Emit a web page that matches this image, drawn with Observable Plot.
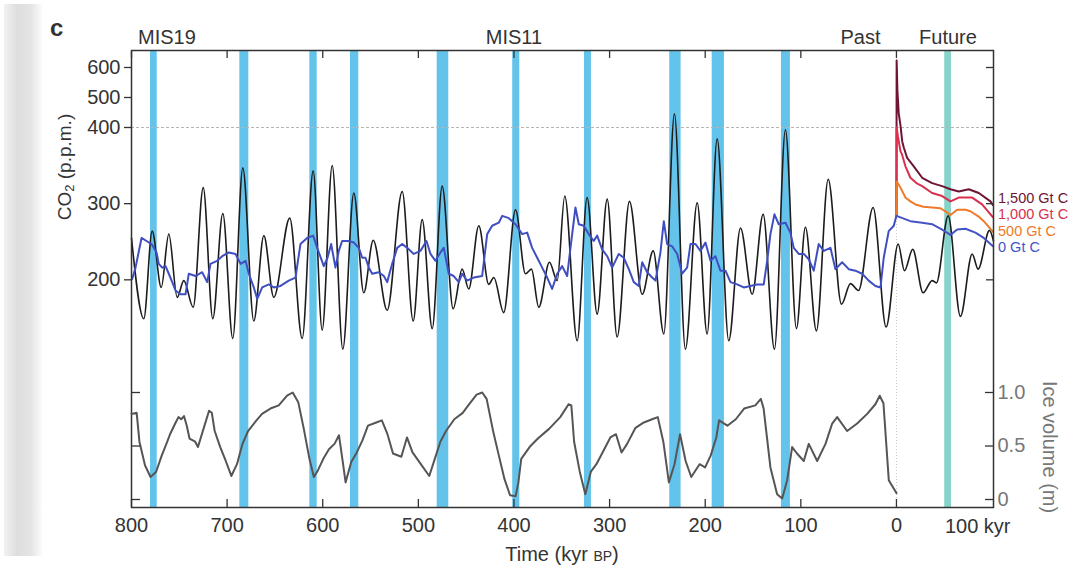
<!DOCTYPE html>
<html><head><meta charset="utf-8">
<script src="https://cdn.jsdelivr.net/npm/d3@7"></script>
<script src="https://cdn.jsdelivr.net/npm/@observablehq/plot@0.6"></script>
<style>
body{margin:0;background:#fff;}
#wrap{position:relative;width:1092px;height:570px;overflow:hidden;font-family:"Liberation Sans",Arial,Helvetica,sans-serif;color:#333;}
#strip{position:absolute;left:4px;top:4px;width:38px;height:552px;background:linear-gradient(to right,#f2f2f2,#dedede 35%,#e4e4e4 70%,#fbfbfb);}
.layer{position:absolute;left:0;top:0;}
.lbl{position:absolute;white-space:nowrap;line-height:1;}
sub{font-size:0.68em;vertical-align:-0.28em;line-height:0;}
</style></head><body>
<div id="wrap"><div id="strip"></div></div>
<script>
// ---- data (time in kyr; negative = before present, positive = future) ----
const critTime = [-800,-787.1,-778.4,-768.9,-761,-752.2,-745.3,-735.5,-725,-715,-704.5,-694.1,-683.6,-672.1,-661.6,-651.2,-634.5,-621.5,-610,-600.6,-590.1,-579,-567.5,-557.1,-547.2,-532.6,-516.9,-505.4,-496,-485.5,-475.1,-463.6,-454.2,-447.3,-436.8,-426.4,-421.1,-410.7,-398.4,-388,-381.7,-374.1,-362.9,-354.8,-346.9,-333.9,-323.5,-313,-302.5,-292.1,-279.2,-265.9,-254.4,-243.3,-232.2,-220.7,-208.4,-198,-187.5,-175.4,-163.1,-150.9,-139.4,-127.6,-116.1,-104.6,-95.2,-83.7,-71.4,-57.5,-48.1,-39.7,-24.4,-10.8,1.8,8.4,17,27.9,37.3,41.8,54.1,66.9,79.2,85.4,97.3,101.5];
const critCO2 = [255,149,264,190,260,177,199,164,321,149,287,123,347,146,258,177,281,123,343,134,350,109,314,183,252,160,316,146,279,136,323,162,214,188,271,194,203,157,292,208,214,164,223,199,310,120,308,155,306,125,303,181,238,129,446,109,301,129,385,120,268,181,286,109,397,136,269,133,332,168,195,186,295,138,247,212,240,183,199,196,284,152,234,214,265,251];

const co2Time = [-799.3,-795.8,-789.5,-784.3,-779,-773.8,-771.5,-767.9,-764.4,-761,-757.4,-754,-748.8,-743.5,-740.1,-733.1,-726.1,-720.8,-717.4,-710.4,-705.1,-698.2,-691.2,-685.9,-680.7,-677.3,-672.1,-668.5,-663.3,-656.4,-651.2,-644.2,-635.5,-628.5,-623.3,-616.3,-610,-605.8,-598.9,-595,-591.2,-586.7,-583.2,-579.7,-572.8,-567.5,-562.3,-558.7,-555.3,-551.8,-548.3,-541.4,-536.1,-532.6,-527.4,-522.1,-516.9,-511.7,-504.8,-497.8,-491.5,-487.3,-482.1,-476.9,-473.4,-468.2,-463,-457.7,-454.2,-449,-442,-433.3,-428,-422.8,-415.9,-412.3,-405.4,-398.4,-391.4,-386.2,-381,-375.7,-370.5,-365.3,-360.1,-354.8,-349.6,-344.4,-340.9,-335.7,-332.2,-327,-321.8,-316.6,-313,-307.8,-302.5,-297.3,-290.4,-285.2,-279.9,-274.7,-269.5,-265.9,-260.7,-255.5,-252,-246.8,-243.3,-239.8,-234.6,-229.3,-224.1,-218.9,-215.4,-210.2,-205,-199.7,-194.5,-189.3,-184.1,-178.8,-173.6,-166.6,-159.7,-152.7,-145.7,-138.8,-135.2,-131.8,-127.6,-123.1,-116.1,-110.9,-107.4,-102.2,-96.9,-91.7,-86.5,-81.3,-76,-69,-63.8,-56.8,-49.9,-42.9,-35.9,-29,-22,-16.7,-13.3,-8.1,-2.8,0];
const co2Value = [201,216,255,251,247,236,221,216,218,208,197,186,181,181,208,205,210,197,221,225,231,236,234,221,225,208,190,175,190,194,190,192,199,203,247,255,258,242,218,229,247,216,238,251,251,249,242,229,229,216,208,210,205,197,221,242,247,242,234,238,251,234,225,236,242,208,205,197,208,199,203,205,260,271,275,284,281,273,260,262,242,229,216,203,188,208,218,205,242,295,273,271,260,251,258,240,231,216,234,229,214,197,192,223,210,203,199,236,277,247,244,234,208,216,247,247,238,249,225,231,212,212,197,194,190,192,194,194,225,260,286,273,275,262,242,234,234,227,212,247,238,242,214,223,214,212,208,199,192,190,229,264,271,284];

const iceTime = [-800,-794.6,-791.7,-785.9,-780.1,-774.2,-768.4,-762.6,-759.7,-753.8,-750.9,-748,-745.1,-742.2,-739.3,-733.4,-730.5,-724.7,-718.9,-716,-713,-707.2,-701.4,-695.6,-689.7,-683.9,-678.1,-669.3,-663.5,-654.7,-646,-637.3,-631.4,-625.6,-619.8,-613.9,-609.3,-605.2,-599.4,-593.5,-587.7,-583,-579,-576.1,-570.2,-564.4,-558.6,-552.7,-544,-538.2,-532.3,-526.5,-517.8,-511.9,-506.1,-497.4,-488.6,-482.8,-477,-471.1,-462.4,-453.6,-447.8,-439.1,-433.2,-428.6,-421.6,-415.8,-409.9,-404.1,-398.3,-395.4,-392.4,-383.7,-375,-363.3,-351.6,-342.9,-340,-337.1,-331.2,-325.4,-319.6,-313.8,-307.9,-299.2,-293.3,-287.5,-281.7,-272.9,-264.2,-255.5,-249.6,-243.8,-238,-232.1,-226.3,-220.5,-214.6,-205.9,-200.1,-194.3,-188.4,-185.5,-176.8,-168,-159.3,-147.6,-141.8,-138.9,-131.8,-124.8,-119.5,-114.3,-109.1,-104,-96.9,-91.7,-82.9,-74.2,-67.2,-62,-51.6,-41.1,-30.6,-22,-17.5,-13.6,-8,-4,0];
const iceValue = [0.80,0.81,0.54,0.32,0.21,0.26,0.41,0.54,0.61,0.72,0.77,0.75,0.78,0.69,0.57,0.54,0.49,0.66,0.83,0.81,0.64,0.49,0.36,0.22,0.33,0.52,0.64,0.74,0.80,0.85,0.88,0.97,1.00,0.91,0.66,0.38,0.21,0.27,0.38,0.47,0.52,0.60,0.35,0.16,0.35,0.44,0.55,0.69,0.72,0.74,0.61,0.43,0.40,0.58,0.44,0.33,0.22,0.38,0.54,0.64,0.75,0.81,0.88,0.98,1.00,0.94,0.63,0.41,0.19,0.04,0.03,0.16,0.38,0.49,0.57,0.66,0.77,0.89,0.88,0.54,0.26,0.05,0.26,0.33,0.43,0.58,0.61,0.44,0.52,0.67,0.72,0.75,0.77,0.54,0.16,0.33,0.61,0.36,0.21,0.33,0.30,0.41,0.58,0.74,0.69,0.75,0.85,0.88,0.94,0.85,0.30,0.05,0.01,0.18,0.49,0.43,0.36,0.52,0.36,0.52,0.71,0.77,0.64,0.71,0.80,0.89,0.97,0.90,0.18,0.12,0.06];

const s0Time = [0,14.6,26.9,37.3,47.8,56.5,63.5,72.2,82.6,91.3,101];
const s0Value = [284,277,275,273,266,259,266,267,262,255,244];
const s500Time = [0,0.2,2.4,4.2,9.4,14.6,19.9,28.2,37.3,46,51.2,56.5,63.5,72.2,77.4,86,91.3,101];
const s500Value = [284,329,325,321,308,303,299,296,295,294,290,285,292,292,290,283,277,263];
const s1000Time = [0,0.2,1.6,4.2,6,9.4,14.6,20.9,26.9,37.3,47.8,56.5,65.2,79.2,89.6,101];
const s1000Value = [284,401,388,369,364,349,334,327,323,314,310,303,308,308,299,282];
const s1500Time = [0,0.2,1,2.4,4.2,6,7.6,11.2,18.1,26.9,37.3,47.8,56.5,65.2,75.6,86.1,98.3,101];
const s1500Value = [284,623,523,447,407,382,374,360,349,334,327,323,319,316,319,314,303,298];
const scenarioLabels = ["1,500 Gt C","1,000 Gt C","500 Gt C","0 Gt C"];

const bandStart = [-780.1,-686.7,-613.5,-571,-480.3,-401.3,-326.3,-237.1,-192.7,-120.3];
const bandEnd   = [-773.1,-677.3,-605.8,-562.3,-468.2,-393.9,-319,-225.2,-179.9,-110.9];
const futureBandStart = [50.5];
const futureBandEnd = [57.5];

const xTickValues = [-800,-700,-600,-500,-400,-300,-200,-100,0];
const co2Ticks = [200,300,400,500,600];
const iceTicks = [0,0.5,1];
const topLabels = ["MIS19","MIS11","Past","Future"];
const topLabelX = [-763,-400,-37.6,53.9];

// ---- build tables ----
const zip = (ts, vs) => ts.map((t, i) => ({t, v: vs[i]}));
const crit = zip(critTime, critCO2);
const co2 = zip(co2Time, co2Value);
const ice = zip(iceTime, iceValue);
const bands = bandStart.map((s, i) => ({s, e: bandEnd[i]}));
const fBands = futureBandStart.map((s, i) => ({s, e: futureBandEnd[i]}));
const scenarios = [
  {label: scenarioLabels[0], data: zip(s1500Time, s1500Value), color: "#6e1533", dy: -7},
  {label: scenarioLabels[1], data: zip(s1000Time, s1000Value), color: "#d8304e", dy: -3},
  {label: scenarioLabels[2], data: zip(s500Time, s500Value), color: "#f07a2a", dy: 0},
  {label: scenarioLabels[3], data: zip(s0Time, s0Value), color: "#4553c6", dy: 1}
];

const font = '"Liberation Sans", Arial, Helvetica, sans-serif';
const base = {width:1092, height:570, marginLeft:131, marginRight:99, marginTop:50, marginBottom:63};
const xDomain = [-800, 101.5];

const scenMarks = [];
for (const s of scenarios) {
  scenMarks.push(Plot.line(s.data, {x:"t", y:"v", stroke:s.color, strokeWidth:2}));
}
for (const s of scenarios) {
  scenMarks.push(Plot.text(s.data, Plot.selectLast({x:"t", y:"v", text: () => s.label, fill:s.color, dx:5, dy:s.dy, textAnchor:"start", fontSize:14.5})));
}

const p1 = Plot.plot({
  ...base,
  style:{fontFamily:font, fontSize:"20px", color:"#333", background:"transparent", overflow:"visible"},
  x:{domain:xDomain},
  y:{type:"linear", domain:[100,400,600], range:[355.5,127,67]},
  marks:[
    Plot.rect(bands, {x1:"s", x2:"e", fill:"#64c3eb"}),
    Plot.rect(fBands, {x1:"s", x2:"e", fill:"#86d3c9"}),
    Plot.ruleY([400], {stroke:"#b5b5b5", strokeDasharray:"3,2"}),
    Plot.ruleX([0], {stroke:"#c8c8c8", strokeDasharray:"1,2"}),
    Plot.line(crit, {x:"t", y:"v", stroke:"#1c1c1c", strokeWidth:1.6, curve:"monotone-x"}),
    Plot.line(co2, {x:"t", y:"v", stroke:"#3f4fc2", strokeWidth:2}),
    ...scenMarks,
    Plot.axisY(co2Ticks, {anchor:"left", tickSize:7, tickPadding:4, strokeWidth:1.3, label:null}),
    Plot.axisY(co2Ticks, {anchor:"right", tickSize:-8, strokeWidth:1.3, tickFormat:() => "", label:null}),
    Plot.axisX(xTickValues, {anchor:"bottom", tickSize:-8, strokeWidth:1.3, tickFormat:() => "", label:null}),
    Plot.axisX(xTickValues, {anchor:"bottom", tickSize:0, tickPadding:10, tickFormat:d => String(Math.abs(d)), label:null}),
    Plot.axisX(xTickValues, {anchor:"top", tickSize:-7, strokeWidth:1.3, tickFormat:() => "", label:null}),
    Plot.text(["100 kyr"], {x:[85], text:d => d, frameAnchor:"bottom", lineAnchor:"bottom", dy:25, fill:"#333"}),
    Plot.text(topLabels, {x:topLabelX, text:d => d, frameAnchor:"top", lineAnchor:"bottom", dy:-7, fill:"#333"}),
    Plot.frame({stroke:"#333", strokeWidth:1.5})
  ]
});
p1.classList.add("layer");

const p2 = Plot.plot({
  ...base,
  style:{fontFamily:font, fontSize:"20px", color:"#333", background:"transparent", overflow:"visible"},
  x:{domain:xDomain, axis:null},
  y:{domain:[0,1], range:[499,392]},
  marks:[
    Plot.line(ice, {x:"t", y:"v", stroke:"#555", strokeWidth:2}),
    Plot.axisY(iceTicks, {anchor:"right", tickSize:-9, strokeWidth:1.3, tickFormat:() => "", label:null}),
    Plot.axisY(iceTicks, {anchor:"left", tickSize:-9, strokeWidth:1.3, tickFormat:() => "", label:null}),
    Plot.axisY(iceTicks, {anchor:"right", tickSize:0, tickPadding:4, fill:"#777", tickFormat:d => d === 0 ? "0" : d.toFixed(1), label:null})
  ]
});
p2.classList.add("layer");

const wrap = document.getElementById("wrap");
wrap.appendChild(p1);
wrap.appendChild(p2);

function addLabel(html, css) {
  const d = document.createElement("div");
  d.className = "lbl";
  d.innerHTML = html;
  Object.assign(d.style, css);
  wrap.appendChild(d);
}
addLabel("c", {left:"50px", top:"16px", fontSize:"24px", fontWeight:"900"});
addLabel("CO<sub>2</sub> (p.p.m.)", {left:"64px", top:"167px", fontSize:"19px", transform:"translate(-50%,-50%) rotate(-90deg)"});
addLabel("Ice volume (m)", {left:"1050px", top:"447px", fontSize:"20px", color:"#777", transform:"translate(-50%,-50%) rotate(90deg)"});
addLabel('Time (kyr <span style="font-size:14px">BP</span>)', {left:"562px", top:"544px", fontSize:"20px", transform:"translateX(-50%)"});
</script>
</body></html>
